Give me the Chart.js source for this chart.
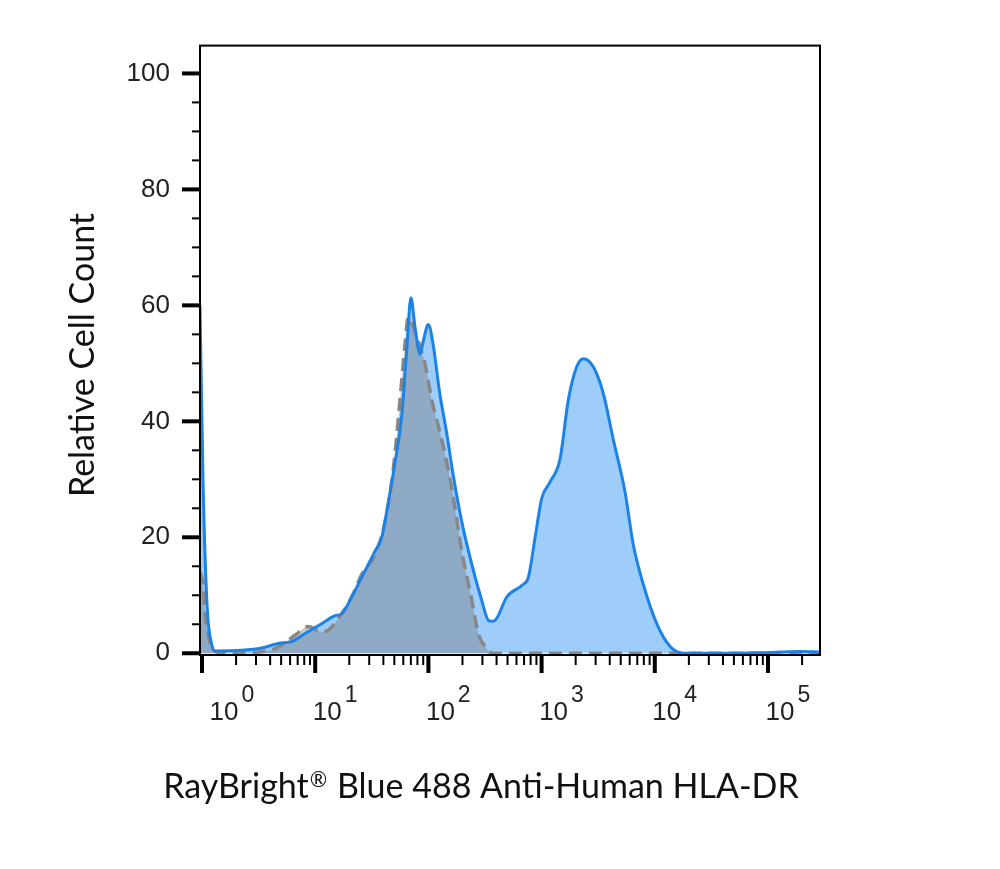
<!DOCTYPE html>
<html>
<head>
<meta charset="utf-8">
<script src="https://cdn.jsdelivr.net/npm/chart.js@4"></script>
<style>
  html, body { margin: 0; padding: 0; background: #fff; }
  #wrap { width: 1000px; height: 869px; }
</style>
</head>
<body>
<div id="wrap"><canvas id="histChart"></canvas></div>
<script>
// HLA-DR stained cells: fluorescence intensity and relative cell count
const stainedX = [0.96, 1.02, 1.11, 1.22, 1.30, 2.24, 3.37, 4.72, 6.19, 8.13,
  11.4, 15.0, 17.1, 21.0, 25.8, 33.7, 38.6, 44.3, 50.7, 58.1,
  64.3, 70.1, 76.2, 84.3, 90.2, 99.8, 110, 126, 145, 166,
  197, 242, 296, 338, 372, 401, 492, 689, 764, 875,
  1002, 1186, 1455, 1722, 2042, 2333, 2864, 3508, 4295, 5458,
  6457, 7907, 10400, 13600, 17900, 37700, 84900, 192000, 288000];
const stainedY = [60, 30, 8, 1.5, 0.4, 0.5, 0.9, 1.7, 2.0, 3.4,
  5.1, 6.5, 6.8, 9.7, 13.1, 17.6, 19.9, 26.1, 32.9, 40.9,
  52.2, 61.3, 56.2, 51.6, 53.9, 56.7, 53.3, 44.8, 38.0, 30.6,
  22.7, 15.3, 9.1, 5.7, 5.5, 6.0, 9.7, 11.9, 13.1, 19.9,
  26.7, 29.5, 33.5, 43.7, 49.4, 50.8, 49.4, 44.8, 36.9, 27.8,
  18.7, 11.9, 5.1, 1.2, 0, 0, 0.1, 0.3, 0.2];

// isotype control (grey, dashed)
const isoX = [0.96, 1.02, 1.06, 1.13, 1.25, 1.70, 4.13, 5.41, 6.63, 8.69,
  11.4, 13.1, 17.1, 21.0, 25.8, 33.7, 41.4, 49.0, 56.1, 62.1,
  66.4, 78.9, 93.3, 107, 131, 161, 197, 242, 276, 316,
  372, 288000];
const isoY = [14, 12, 7, 3.5, 0.5, 0, 0.6, 1.8, 3.1, 4.6,
  3.7, 4.0, 6.8, 9.7, 13.6, 17.0, 22.7, 31.8, 43.7, 53.3,
  57.9, 54.5, 49.9, 43.7, 36.9, 28.4, 17.6, 9.1, 3.4, 1.2,
  0, 0];

const decades = [0, 1, 2, 3, 4, 5];
const yLabels = [0, 20, 40, 60, 80, 100];
// x title in three parts so the (R) mark can be raised
const xTitleParts = ["RayBright", "\u00AE", " Blue 488 Anti-Human HLA-DR"];
const yTitle = "Relative Cell Count";

const stained = stainedX.map((x, i) => ({ x: x, y: stainedY[i] }));
const iso = isoX.map((x, i) => ({ x: x, y: isoY[i] }));

const tickFont = "'Liberation Sans', Arial, sans-serif";
const titleFont = "Lato, 'Open Sans', sans-serif";

// box, tick marks, decade labels and axis titles
const frameAndTicks = {
  id: "frameAndTicks",
  afterDraw(chart) {
    const { ctx, chartArea: a, scales: { x, y } } = chart;
    ctx.save();
    ctx.strokeStyle = "#000";
    ctx.lineWidth = 2;
    ctx.strokeRect(a.left, a.top, a.right - a.left, a.bottom - a.top);

    // x ticks: decades thick, 2..9 thin
    decades.forEach(n => {
      for (let k = 1; k <= 9; k++) {
        const v = k * Math.pow(10, n);
        if (v > x.max) break;
        const px = x.getPixelForValue(v);
        ctx.lineWidth = k === 1 ? 4 : 2;
        ctx.beginPath();
        ctx.moveTo(px, a.bottom);
        ctx.lineTo(px, a.bottom + (k === 1 ? 18 : 10));
        ctx.stroke();
      }
    });

    // y ticks every 5, labelled every 20
    for (let v = 0; v <= 100; v += 5) {
      const py = y.getPixelForValue(v);
      const major = v % 20 === 0;
      ctx.lineWidth = major ? 4 : 2;
      ctx.beginPath();
      ctx.moveTo(a.left, py);
      ctx.lineTo(a.left - (major ? 18 : 8), py);
      ctx.stroke();
    }

    // decade labels 10^n
    ctx.fillStyle = "#222";
    ctx.textBaseline = "alphabetic";
    decades.forEach(n => {
      const px = x.getPixelForValue(Math.pow(10, n));
      const cx = Math.max(px + 12, a.left + 24);
      ctx.font = "26px " + tickFont;
      ctx.textAlign = "center";
      ctx.fillText("10", cx, 720);
      const w = ctx.measureText("10").width;
      ctx.font = "23px " + tickFont;
      ctx.textAlign = "left";
      ctx.fillText(String(n), cx + w / 2 + 3, 702);
    });

    // x title
    ctx.fillStyle = "#111";
    ctx.textAlign = "left";
    ctx.textBaseline = "alphabetic";
    const big = "34px " + titleFont, small = "21px " + titleFont;
    ctx.font = big;
    const w0 = ctx.measureText(xTitleParts[0]).width;
    const w2 = ctx.measureText(xTitleParts[2]).width;
    ctx.font = small;
    const w1 = ctx.measureText(xTitleParts[1]).width + 2;
    let tx = 481 - (w0 + w1 + w2) / 2;
    const base = 798;
    ctx.font = big;
    ctx.fillText(xTitleParts[0], tx, base);
    tx += w0 + 1;
    ctx.font = small;
    ctx.fillText(xTitleParts[1], tx, base - 11);
    tx += w1 - 1;
    ctx.font = big;
    ctx.fillText(xTitleParts[2], tx, base);

    // y title
    ctx.textAlign = "center";
    ctx.textBaseline = "middle";
    ctx.translate(83, 355);
    ctx.rotate(-Math.PI / 2);
    ctx.fillText(yTitle, 0, 0);
    ctx.restore();
  }
};

const ctx = document.getElementById("histChart").getContext("2d");

new Chart(ctx, {
  type: "line",
  data: {
    datasets: [
      {
        label: "HLA-DR outline",
        data: stained,
        borderColor: "#1c82e6",
        borderWidth: 3,
        fill: false,
        pointRadius: 0,
        cubicInterpolationMode: "monotone"
      },
      {
        label: "Isotype control",
        data: iso,
        borderColor: "#878787",
        borderWidth: 3.5,
        borderDash: [13, 7],
        backgroundColor: "rgba(121,121,121,0.41)",
        fill: "origin",
        pointRadius: 0,
        cubicInterpolationMode: "monotone"
      },
      {
        label: "HLA-DR",
        data: stained,
        borderColor: "transparent",
        borderWidth: 0,
        backgroundColor: "rgb(158,205,250)",
        fill: "origin",
        pointRadius: 0,
        cubicInterpolationMode: "monotone"
      }
    ]
  },
  options: {
    responsive: true,
    maintainAspectRatio: false,
    animation: false,
    layout: { padding: { top: 37, right: 180, left: 0, bottom: 0 } },
    plugins: { legend: { display: false }, tooltip: { enabled: false } },
    scales: {
      x: {
        type: "logarithmic",
        min: 0.96,
        max: 288000,
        grid: { display: false, drawTicks: false },
        border: { display: false },
        ticks: { display: false },
        afterFit(s) { s.height = 214; }
      },
      y: {
        type: "linear",
        min: -0.3,
        max: 104.8,
        grid: { display: false, drawTicks: false },
        border: { display: false },
        ticks: {
          padding: 30,
          color: "#222",
          font: { family: tickFont, size: 26 },
          callback: v => yLabels.includes(v) ? String(v) : ""
        },
        afterBuildTicks(s) { s.ticks = yLabels.map(v => ({ value: v })); },
        afterFit(s) { s.width = 200; }
      }
    }
  },
  plugins: [frameAndTicks]
});
</script>
</body>
</html>
